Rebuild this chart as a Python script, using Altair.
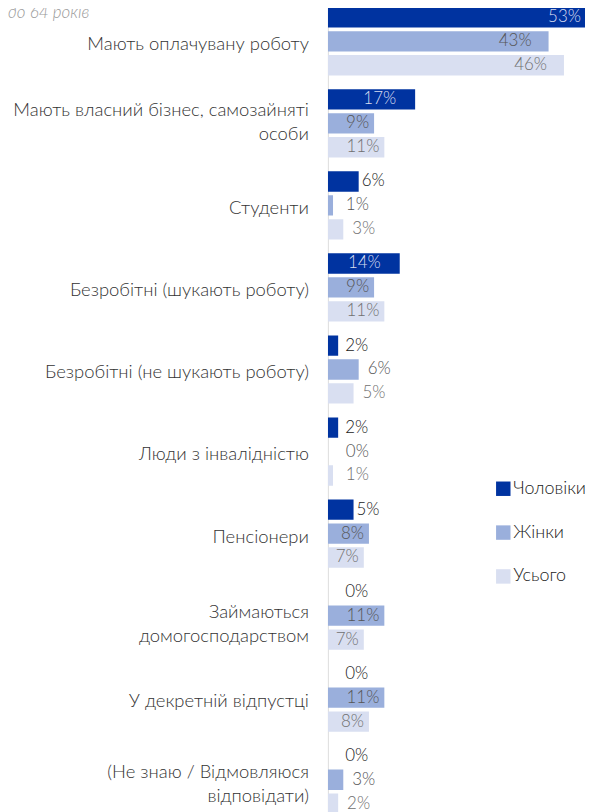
import altair as alt
import pandas as pd

subtitle = "до 64 років"
categories = [
    "Мають оплачувану роботу",
    "Мають власний бізнес, самозайняті|особи",
    "Студенти",
    "Безробітні (шукають роботу)",
    "Безробітні (не шукають роботу)",
    "Люди з інвалідністю",
    "Пенсіонери",
    "Займаються|домогосподарством",
    "У декретній відпустці",
    "(Не знаю / Відмовляюся|відповідати)",
]
series = ["Чоловіки", "Жінки", "Усього"]
men = [53, 17, 6, 14, 2, 2, 5, 0, 0, 0]
women = [43, 9, 1, 9, 6, 0, 8, 11, 11, 3]
total = [46, 11, 3, 11, 5, 1, 7, 7, 8, 2]
colors = ["#0033a0", "#9aafdc", "#d9dff1"]

rows = []
for i, c in enumerate(categories):
    for s, vals in zip(series, [men, women, total]):
        rows.append({"cat": c, "series": s, "value": vals[i], "label": f"{vals[i]}%"})
df = pd.DataFrame(rows)
cat_df = pd.DataFrame({"cat": categories})

FONT = "Lato"
W = 300
xscale = alt.Scale(domain=[0, 50.1], nice=False)
yenc = alt.Y("cat:N", sort=categories,
             scale=alt.Scale(paddingInner=0.125, paddingOuter=0), axis=None)
yoff = alt.YOffset("series:N", sort=series,
                   scale=alt.Scale(paddingInner=0.15, paddingOuter=0.075))

base = alt.Chart(df)

bars = base.mark_bar(clip=True).encode(
    x=alt.X("value:Q", scale=xscale, axis=None),
    y=yenc,
    yOffset=yoff,
    color=alt.Color(
        "series:N",
        scale=alt.Scale(domain=series, range=colors),
        legend=alt.Legend(
            title=None, orient="none", legendX=167, legendY=476,
            symbolType="square", symbolSize=210, symbolStrokeWidth=0,
            labelFontSize=18, labelFont=FONT, labelFontWeight=W, labelColor="#222222",
            rowPadding=26, labelOffset=1, padding=0, labelLimit=200,
        ),
    ),
)

def txt(filt, align, dx, color, xfield="value", calc=None):
    ch = base.transform_filter(filt)
    if calc:
        ch = ch.transform_calculate(lx=calc)
    return ch.mark_text(align=align, baseline="middle", dx=dx, fontSize=17,
                        font=FONT, fontWeight=W).encode(
        x=alt.X(f"{xfield}:Q", scale=xscale, axis=None),
        y=yenc,
        yOffset=yoff,
        text="label:N",
        color=color,
    )

gray = alt.condition("datum.series == 'Жінки'", alt.value("#555555"), alt.value("#707070"))

dark_in = txt("datum.series == 'Чоловіки' && datum.value >= 10", "right", -19, alt.value("#d8ddf0"))
dark_out = txt("datum.series == 'Чоловіки' && datum.value < 10", "left", 3, alt.value("#1a1a1a"),
               xfield="lx", calc="max(datum.value, 2.8)")
oth_big = txt("datum.series != 'Чоловіки' && datum.value >= 30", "right", -17, gray)
oth_mid = txt("datum.series != 'Чоловіки' && datum.value >= 7 && datum.value < 30", "right", -5, gray)
oth_out = txt("datum.series != 'Чоловіки' && datum.value < 7", "left", 9, gray,
              xfield="lx", calc="max(datum.value, 1.75)")

cbase = alt.Chart(cat_df)
def cat_labels(filt, dy):
    return cbase.transform_filter(filt).mark_text(
        align="right", baseline="middle", lineBreak="|", lineHeight=24, dy=dy,
        fontSize=18.5, font=FONT, fontWeight=W, color="#333333",
    ).encode(x=alt.value(-19), y=yenc, text="cat:N")

cat1 = cat_labels("indexof(datum.cat, '|') < 0", 3)
cat2a = cat_labels(f"datum.cat == '{categories[1]}'", -13)
cat2b = cat_labels(f"datum.cat == '{categories[7]}'", -4)
cat2c = cat_labels(f"datum.cat == '{categories[9]}'", -8)

sub = alt.Chart(pd.DataFrame({"t": [subtitle]})).mark_text(
    align="left", baseline="alphabetic", fontStyle="italic", fontSize=17, fontWeight=W,
    color="#9a9a9a", font=FONT
).encode(x=alt.value(-321), y=alt.value(13), text="t:N")

chart = alt.layer(bars, dark_in, dark_out, oth_big, oth_mid, oth_out,
                  cat1, cat2a, cat2b, cat2c, sub).properties(
    width=258, height=813,
    autosize=alt.AutoSizeParams(type="none"),
    padding={"left": 321, "top": -4, "right": 0, "bottom": 0},
).configure_view(stroke=None).configure(font=FONT)

chart.save("out.html", embed_options={"renderer": "svg", "actions": False})
